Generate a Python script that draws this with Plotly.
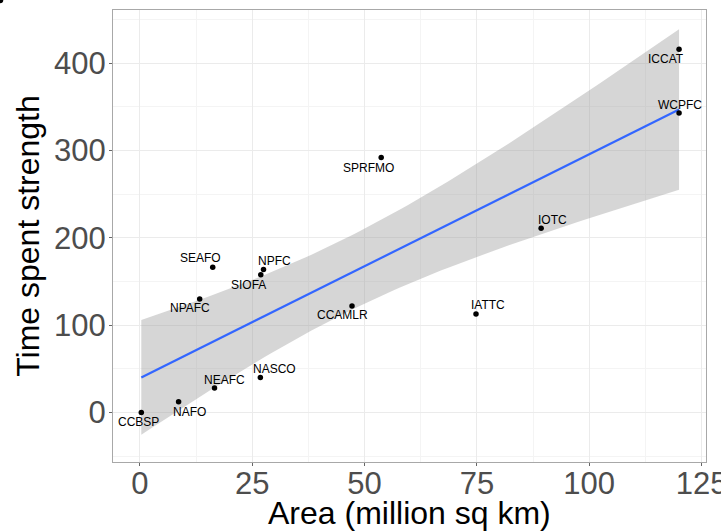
import numpy as np
import plotly.graph_objects as go

# ---- data ----
rfmo = ["CCBSP", "NAFO", "NEAFC", "NASCO", "NPAFC", "SEAFO", "SIOFA", "NPFC",
        "CCAMLR", "IATTC", "IOTC", "ICCAT", "WCPFC", "SPRFMO"]
area = [0.3, 8.6, 16.6, 26.8, 13.3, 16.2, 26.9, 27.5, 47.2, 74.8, 89.3, 120.0, 120.0, 53.7]
strength = [0.0, 12.1, 27.9, 40.0, 130.0, 166.4, 157.7, 163.8, 121.9, 112.8, 211.0, 416.0, 343.0, 292.0]
x_ticks = [0, 25, 50, 75, 100, 125]
y_ticks = [0, 100, 200, 300, 400]

# label offsets (pixels) relative to their point
label_shift = {
    "CCBSP": (-3, -10), "NAFO": (11, -10), "NEAFC": (10, 8), "NASCO": (14, 9),
    "NPAFC": (-10, -9), "SEAFO": (-12, 9), "SIOFA": (-12, -10), "NPFC": (11, 8),
    "CCAMLR": (-10, -9), "IATTC": (12, 9), "IOTC": (11, 8), "ICCAT": (-13, -10),
    "WCPFC": (1, 8), "SPRFMO": (-13, -10),
}

# ---- linear fit with 95% CI (as geom_smooth(method="lm")) ----
x = np.array(area)
y = np.array(strength)
n = len(x)
slope, intercept = np.polyfit(x, y, 1)
resid = y - (intercept + slope * x)
s = np.sqrt(np.sum(resid ** 2) / (n - 2))
sxx = np.sum((x - x.mean()) ** 2)
t975 = 2.178813  # t quantile, df = 12
xs = np.linspace(x.min(), x.max(), 80)
fit = intercept + slope * xs
se = s * np.sqrt(1.0 / n + (xs - x.mean()) ** 2 / sxx)
lo = fit - t975 * se
hi = fit + t975 * se

FONT = "Liberation Sans, Arial, sans-serif"

fig = go.Figure()
fig.add_trace(go.Scatter(
    x=np.concatenate([xs, xs[::-1]]), y=np.concatenate([hi, lo[::-1]]),
    fill="toself", fillcolor="rgba(153,153,153,0.4)", line=dict(width=0),
    mode="lines", hoverinfo="skip", showlegend=False))
fig.add_trace(go.Scatter(x=xs, y=fit, mode="lines",
                         line=dict(color="#3366FF", width=2.2), showlegend=False))
fig.add_trace(go.Scatter(x=area, y=strength, mode="markers",
                         marker=dict(color="black", size=5.5), showlegend=False))

for name, xa, ya in zip(rfmo, area, strength):
    dx, dy = label_shift[name]
    fig.add_annotation(x=xa, y=ya, text=name, showarrow=False,
                       xshift=dx, yshift=dy,
                       font=dict(family=FONT, size=12, color="black"))

# x-axis title
fig.add_annotation(xref="paper", yref="paper", x=0.5, y=-0.113,
                   xanchor="center", yanchor="middle", showarrow=False,
                   text="Area (million sq km)",
                   font=dict(family=FONT, size=32, color="black"))

# small dark corner fragment at the top-left of the picture
fig.add_shape(type="circle", xref="paper", yref="paper",
              x0=-0.1960, x1=-0.1850, y0=1.0150, y1=1.0300,
              fillcolor="black", line=dict(width=0))

axis_common = dict(
    showline=True, mirror=True, linecolor="#A8A8A8", linewidth=1,
    showgrid=True, gridcolor="#EBEBEB", gridwidth=1.1, automargin=False,
    zeroline=False, ticks="outside", ticklen=3, tickcolor="#666666", tickwidth=1,
    tickfont=dict(family=FONT, size=31, color="#4D4D4D"),
    ticklabeloverflow="allow",
)

fig.update_xaxes(
    range=[-6, 126], tickmode="array", tickvals=x_ticks,
    ticktext=[str(v) for v in x_ticks], ticklabelstandoff=-9,
    minor=dict(tickvals=[12.5, 37.5, 62.5, 87.5, 112.5], showgrid=True,
               gridcolor="#F4F4F4", gridwidth=0.6, ticks=""),
    **axis_common)
fig.update_yaxes(
    range=[-56.8, 461], tickmode="array", tickvals=y_ticks,
    ticktext=[str(v) for v in y_ticks], ticklabelstandoff=-3,
    minor=dict(tickvals=[-50, 50, 150, 250, 350, 450], showgrid=True,
               gridcolor="#F4F4F4", gridwidth=0.6, ticks=""),
    title=dict(text="Time spent strength", standoff=4,
               font=dict(family=FONT, size=32, color="black")),
    **axis_common)

fig.update_layout(
    width=721, height=531,
    margin=dict(l=113, r=15, t=10, b=69),
    plot_bgcolor="white", paper_bgcolor="white",
    showlegend=False,
)

fig.write_html("out.html")
